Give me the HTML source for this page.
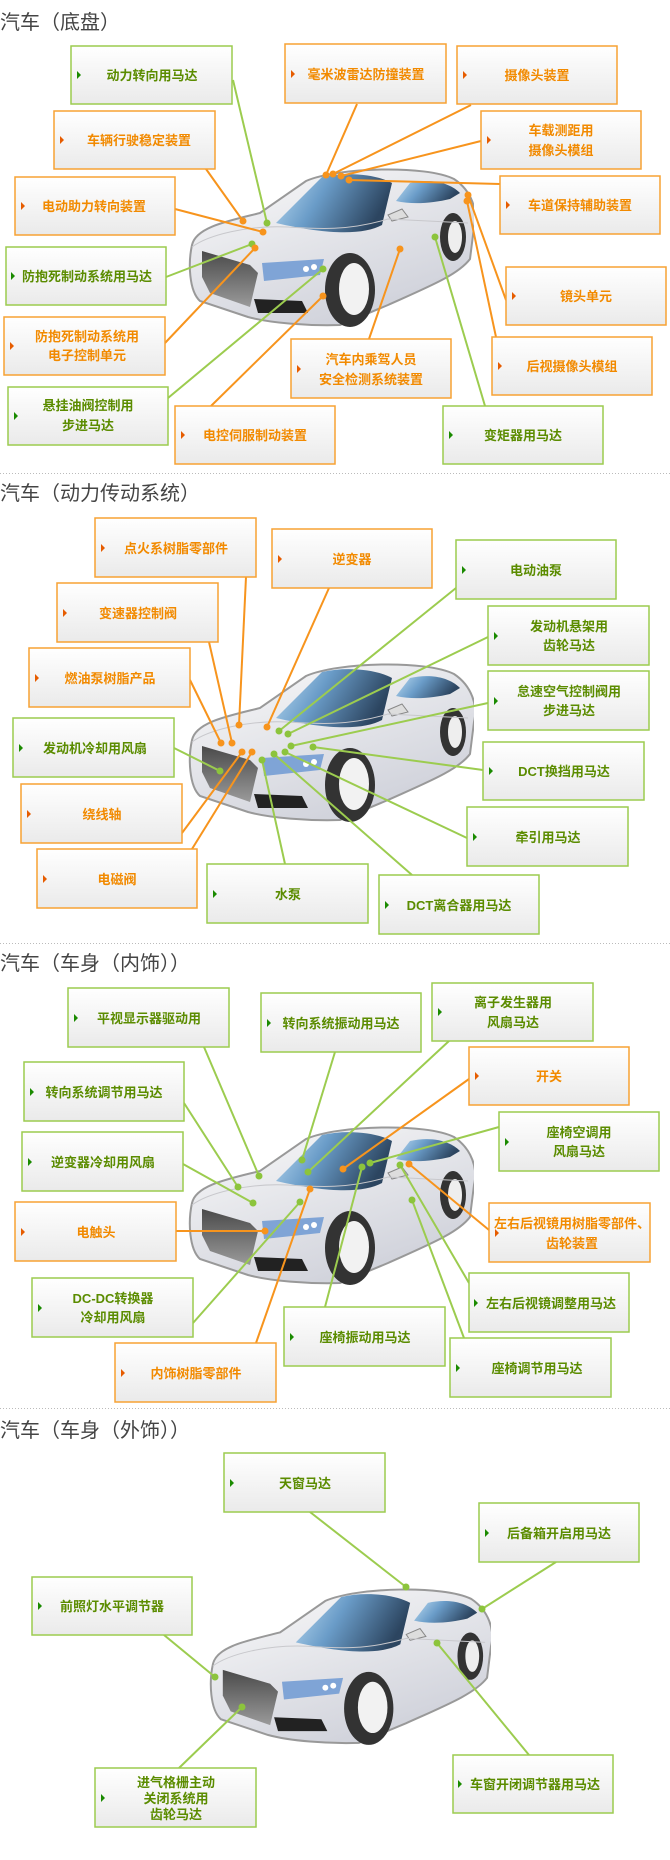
<!DOCTYPE html>
<html><head><meta charset="utf-8"><style>
html,body{margin:0;padding:0;background:#fff;}
svg{display:block;}
text{font-family:"Liberation Sans","Noto Sans CJK SC",sans-serif;}
.t{font-size:20px;fill:#444;}
.g{font-size:13px;font-weight:bold;fill:#5b8c00;text-anchor:middle;}
.o{font-size:13px;font-weight:bold;fill:#f28a00;text-anchor:middle;}
.bg{fill:url(#bx);stroke:#9ccc4f;stroke-width:1.5;}
.bo{fill:url(#bx);stroke:#f7a233;stroke-width:1.5;}
.lg{stroke:#9ccc4f;stroke-width:2;fill:none;}
.lo{stroke:#f7941d;stroke-width:2;fill:none;}
.dg{fill:#8cc43c;}
.do{fill:#f7941d;}
.mg{fill:#1a8a00;}
.mo{fill:#e65c00;}
.sep{stroke:#bbb;stroke-width:1;stroke-dasharray:1 2;}
</style></head><body>
<svg width="670" height="1860" viewBox="0 0 670 1860" xmlns="http://www.w3.org/2000/svg">
<defs>
<linearGradient id="bx" x1="0" y1="0" x2="0" y2="1"><stop offset="0" stop-color="#ffffff"/><stop offset="1" stop-color="#eaeaea"/></linearGradient>
<linearGradient id="ws" x1="0" y1="0" x2="1" y2="0.3"><stop offset="0" stop-color="#bcdcf2"/><stop offset="0.45" stop-color="#6a9cc8"/><stop offset="1" stop-color="#2c4560"/></linearGradient>
<linearGradient id="gr" x1="0" y1="0" x2="0" y2="1"><stop offset="0" stop-color="#4a4a4a"/><stop offset="1" stop-color="#9a9a9a"/></linearGradient>
<linearGradient id="bd" x1="0" y1="0" x2="0.6" y2="1"><stop offset="0" stop-color="#fafafa"/><stop offset="1" stop-color="#cfd1da"/></linearGradient>
<symbol id="car" viewBox="0 0 286 162">
<path d="M4,80 C8,62 40,56 72,48 L118,16 C150,2 238,0 266,14 C284,26 290,46 286,62 L282,94 C270,110 240,122 200,140 L152,160 C120,161 82,158 60,152 L12,136 C1,126 0,98 4,80 Z" fill="url(#bd)" stroke="#999" stroke-width="2"/>
<path d="M88,58 L134,12 C160,6 190,10 204,18 L194,60 C176,70 140,70 88,58 Z" fill="url(#ws)"/>
<path d="M208,36 L222,18 C240,14 260,16 272,28 L262,34 C245,38 225,40 208,36 Z" fill="url(#ws)"/>
<path d="M200,50 L214,44 L220,52 L204,56 Z" fill="#ddd" stroke="#888" stroke-width="1"/>
<path d="M14,86 L62,100 L70,108 L62,142 L22,128 L14,112 Z" fill="url(#gr)"/>
<path d="M74,98 L136,94 L132,110 L76,116 Z" fill="#7fa4d6"/>
<circle cx="118" cy="104" r="3" fill="#fff"/><circle cx="126" cy="102" r="3" fill="#fff"/>
<path d="M66,134 L114,136 L120,148 L70,148 Z" fill="#222"/>
<ellipse cx="162" cy="125" rx="25" ry="37" fill="#333"/>
<ellipse cx="166" cy="124" rx="15" ry="26" fill="#f2f2f2"/>
<ellipse cx="265" cy="72" rx="13" ry="24" fill="#333"/>
<ellipse cx="267" cy="72" rx="7" ry="16" fill="#eee"/>
<path d="M4,82 C20,70 60,60 100,62 C130,64 160,66 200,54 L280,58" fill="none" stroke="#c8c8cc" stroke-width="1"/>
</symbol>
</defs>

<!-- Section 1 -->
<text class="t" x="0" y="29">汽车（底盘）</text>
<use href="#car" x="188" y="165" width="286" height="162"/>
<g>
<line class="lg" x1="233" y1="80" x2="267" y2="223"/><circle class="dg" cx="267" cy="223" r="3.5"/>
<line class="lo" x1="357" y1="104" x2="326" y2="175"/><circle class="do" cx="326" cy="175" r="3.5"/>
<line class="lo" x1="471" y1="105" x2="333" y2="174"/><circle class="do" cx="333" cy="174" r="3.5"/>
<line class="lo" x1="481" y1="141" x2="341" y2="176"/><circle class="do" cx="341" cy="176" r="3.5"/>
<polyline class="lo" points="500,184 349,180"/><circle class="do" cx="349" cy="180" r="3.5"/>
<line class="lo" x1="206" y1="169" x2="243" y2="221"/><circle class="do" cx="243" cy="221" r="3.5"/>
<line class="lo" x1="175" y1="209" x2="263" y2="232"/><circle class="do" cx="263" cy="232" r="3.5"/>
<line class="lg" x1="166" y1="277" x2="252" y2="244"/><circle class="dg" cx="252" cy="244" r="3.5"/>
<line class="lo" x1="165" y1="343" x2="255" y2="248"/><circle class="do" cx="255" cy="248" r="3.5"/>
<line class="lg" x1="168" y1="398" x2="323" y2="269"/><circle class="dg" cx="323" cy="269" r="3.5"/>
<line class="lo" x1="211" y1="406" x2="323" y2="296"/><circle class="do" cx="323" cy="296" r="3.5"/>
<line class="lo" x1="369" y1="339" x2="400" y2="249"/><circle class="do" cx="400" cy="249" r="3.5"/>
<line class="lg" x1="485" y1="406" x2="435" y2="237"/><circle class="dg" cx="435" cy="237" r="3.5"/>
<line class="lo" x1="506" y1="300" x2="468" y2="195"/><circle class="do" cx="468" cy="195" r="3.5"/>
<line class="lo" x1="496" y1="337" x2="467" y2="201"/><circle class="do" cx="467" cy="201" r="3.5"/>
</g>
<g>
<rect class="bg" x="71" y="46" width="161" height="58"/><polygon class="mg" points="77,71 81,75 77,79"/><text class="g" x="152" y="80">动力转向用马达</text>
<rect class="bo" x="285" y="44" width="161" height="59"/><polygon class="mo" points="291,70 295,74 291,78"/><text class="o" x="366" y="79">毫米波雷达防撞装置</text>
<rect class="bo" x="457" y="46" width="160" height="58"/><polygon class="mo" points="463,71 467,75 463,79"/><text class="o" x="537" y="80">摄像头装置</text>
<rect class="bo" x="54" y="111" width="161" height="58"/><polygon class="mo" points="60,136 64,140 60,144"/><text class="o" x="139" y="145">车辆行驶稳定装置</text>
<rect class="bo" x="481" y="111" width="160" height="58"/><polygon class="mo" points="487,136 491,140 487,144"/><text class="o" x="561" y="135">车载测距用</text><text class="o" x="561" y="155">摄像头模组</text>
<rect class="bo" x="15" y="177" width="160" height="58"/><polygon class="mo" points="21,202 25,206 21,210"/><text class="o" x="94" y="211">电动助力转向装置</text>
<rect class="bo" x="500" y="176" width="160" height="58"/><polygon class="mo" points="506,201 510,205 506,209"/><text class="o" x="580" y="210">车道保持辅助装置</text>
<rect class="bg" x="6" y="247" width="160" height="58"/><polygon class="mg" points="11,272 15,276 11,280"/><text class="g" x="87" y="281">防抱死制动系统用马达</text>
<rect class="bo" x="506" y="267" width="160" height="58"/><polygon class="mo" points="512,292 516,296 512,300"/><text class="o" x="586" y="301">镜头单元</text>
<rect class="bo" x="4" y="317" width="161" height="58"/><polygon class="mo" points="10,342 14,346 10,350"/><text class="o" x="87" y="341">防抱死制动系统用</text><text class="o" x="87" y="360">电子控制单元</text>
<rect class="bo" x="291" y="339" width="160" height="59"/><polygon class="mo" points="297,365 301,369 297,373"/><text class="o" x="371" y="364">汽车内乘驾人员</text><text class="o" x="371" y="384">安全检测系统装置</text>
<rect class="bo" x="492" y="337" width="160" height="58"/><polygon class="mo" points="498,362 502,366 498,370"/><text class="o" x="572" y="371">后视摄像头模组</text>
<rect class="bg" x="8" y="387" width="160" height="58"/><polygon class="mg" points="14,412 18,416 14,420"/><text class="g" x="88" y="410">悬挂油阀控制用</text><text class="g" x="88" y="430">步进马达</text>
<rect class="bo" x="175" y="406" width="160" height="58"/><polygon class="mo" points="181,431 185,435 181,439"/><text class="o" x="255" y="440">电控伺服制动装置</text>
<rect class="bg" x="443" y="406" width="160" height="58"/><polygon class="mg" points="449,431 453,435 449,439"/><text class="g" x="523" y="440">变矩器用马达</text>
</g>

<!-- Section 2 -->
<line class="sep" x1="0" y1="473.5" x2="670" y2="473.5"/>
<text class="t" x="0" y="500">汽车（动力传动系统）</text>
<use href="#car" x="188" y="660" width="286" height="162"/>
<g>
<line class="lo" x1="246" y1="577" x2="239" y2="725"/><circle class="do" cx="239" cy="725" r="3.5"/>
<line class="lo" x1="329" y1="588" x2="267" y2="727"/><circle class="do" cx="267" cy="727" r="3.5"/>
<line class="lg" x1="456" y1="588" x2="279" y2="731"/><circle class="dg" cx="279" cy="731" r="3.5"/>
<line class="lo" x1="209" y1="642" x2="232" y2="743"/><circle class="do" cx="232" cy="743" r="3.5"/>
<line class="lg" x1="488" y1="637" x2="288" y2="734"/><circle class="dg" cx="288" cy="734" r="3.5"/>
<line class="lo" x1="190" y1="680" x2="221" y2="743"/><circle class="do" cx="221" cy="743" r="3.5"/>
<line class="lg" x1="488" y1="703" x2="291" y2="746"/><circle class="dg" cx="291" cy="746" r="3.5"/>
<line class="lg" x1="174" y1="748" x2="220" y2="771"/><circle class="dg" cx="220" cy="771" r="3.5"/>
<line class="lg" x1="483" y1="770" x2="313" y2="747"/><circle class="dg" cx="313" cy="747" r="3.5"/>
<line class="lo" x1="182" y1="833" x2="242" y2="752"/><circle class="do" cx="242" cy="752" r="3.5"/>
<line class="lg" x1="467" y1="838" x2="285" y2="752"/><circle class="dg" cx="285" cy="752" r="3.5"/>
<line class="lo" x1="192" y1="849" x2="252" y2="752"/><circle class="do" cx="252" cy="752" r="3.5"/>
<line class="lg" x1="285" y1="864" x2="262" y2="760"/><circle class="dg" cx="262" cy="760" r="3.5"/>
<line class="lg" x1="412" y1="875" x2="274" y2="754"/><circle class="dg" cx="274" cy="754" r="3.5"/>
</g>
<g>
<rect class="bo" x="95" y="518" width="161" height="59"/><polygon class="mo" points="101,544 105,548 101,552"/><text class="o" x="176" y="553">点火系树脂零部件</text>
<rect class="bo" x="272" y="529" width="160" height="59"/><polygon class="mo" points="278,555 282,559 278,563"/><text class="o" x="352" y="564">逆变器</text>
<rect class="bg" x="456" y="540" width="160" height="59"/><polygon class="mg" points="462,566 466,570 462,574"/><text class="g" x="536" y="575">电动油泵</text>
<rect class="bo" x="57" y="583" width="161" height="59"/><polygon class="mo" points="63,609 67,613 63,617"/><text class="o" x="138" y="618">变速器控制阀</text>
<rect class="bg" x="488" y="606" width="161" height="59"/><polygon class="mg" points="494,632 498,636 494,640"/><text class="g" x="569" y="631">发动机悬架用</text><text class="g" x="569" y="650">齿轮马达</text>
<rect class="bo" x="29" y="648" width="161" height="59"/><polygon class="mo" points="35,674 39,678 35,682"/><text class="o" x="110" y="683">燃油泵树脂产品</text>
<rect class="bg" x="488" y="671" width="161" height="59"/><polygon class="mg" points="494,697 498,701 494,705"/><text class="g" x="569" y="696">怠速空气控制阀用</text><text class="g" x="569" y="715">步进马达</text>
<rect class="bg" x="13" y="718" width="161" height="59"/><polygon class="mg" points="19,744 23,748 19,752"/><text class="g" x="95" y="753">发动机冷却用风扇</text>
<rect class="bg" x="483" y="742" width="161" height="58"/><polygon class="mg" points="489,767 493,771 489,775"/><text class="g" x="564" y="776">DCT换挡用马达</text>
<rect class="bo" x="21" y="784" width="161" height="59"/><polygon class="mo" points="27,810 31,814 27,818"/><text class="o" x="102" y="819">绕线轴</text>
<rect class="bg" x="467" y="807" width="161" height="59"/><polygon class="mg" points="473,833 477,837 473,841"/><text class="g" x="548" y="842">牵引用马达</text>
<rect class="bo" x="37" y="849" width="160" height="59"/><polygon class="mo" points="43,875 47,879 43,883"/><text class="o" x="117" y="884">电磁阀</text>
<rect class="bg" x="207" y="864" width="161" height="59"/><polygon class="mg" points="213,890 217,894 213,898"/><text class="g" x="288" y="899">水泵</text>
<rect class="bg" x="379" y="875" width="160" height="59"/><polygon class="mg" points="385,901 389,905 385,909"/><text class="g" x="459" y="910">DCT离合器用马达</text>
</g>

<!-- Section 3 -->
<line class="sep" x1="0" y1="943.5" x2="670" y2="943.5"/>
<text class="t" x="0" y="970">汽车（车身（内饰））</text>
<use href="#car" x="188" y="1123" width="286" height="162"/>
<g>
<line class="lg" x1="204" y1="1047" x2="259" y2="1176"/><circle class="dg" cx="259" cy="1176" r="3.5"/>
<line class="lg" x1="335" y1="1052" x2="302" y2="1160"/><circle class="dg" cx="302" cy="1160" r="3.5"/>
<line class="lg" x1="449" y1="1041" x2="308" y2="1172"/><circle class="dg" cx="308" cy="1172" r="3.5"/>
<line class="lg" x1="184" y1="1103" x2="238" y2="1187"/><circle class="dg" cx="238" cy="1187" r="3.5"/>
<line class="lo" x1="469" y1="1079" x2="343" y2="1169"/><circle class="do" cx="343" cy="1169" r="3.5"/>
<line class="lg" x1="183" y1="1164" x2="253" y2="1203"/><circle class="dg" cx="253" cy="1203" r="3.5"/>
<line class="lg" x1="499" y1="1127" x2="370" y2="1163"/><circle class="dg" cx="370" cy="1163" r="3.5"/>
<line class="lo" x1="176" y1="1231" x2="265" y2="1231"/><circle class="do" cx="265" cy="1231" r="3.5"/>
<line class="lo" x1="489" y1="1230" x2="409" y2="1164"/><circle class="do" cx="409" cy="1164" r="3.5"/>
<line class="lg" x1="193" y1="1323" x2="300" y2="1202"/><circle class="dg" cx="300" cy="1202" r="3.5"/>
<line class="lg" x1="469" y1="1283" x2="400" y2="1165"/><circle class="dg" cx="400" cy="1165" r="3.5"/>
<line class="lg" x1="325" y1="1307" x2="362" y2="1167"/><circle class="dg" cx="362" cy="1167" r="3.5"/>
<line class="lo" x1="256" y1="1343" x2="310" y2="1189"/><circle class="do" cx="310" cy="1189" r="3.5"/>
<line class="lg" x1="464" y1="1338" x2="412" y2="1200"/><circle class="dg" cx="412" cy="1200" r="3.5"/>
</g>
<g>
<rect class="bg" x="68" y="988" width="161" height="59"/><polygon class="mg" points="74,1014 78,1018 74,1022"/><text class="g" x="149" y="1023">平视显示器驱动用</text>
<rect class="bg" x="261" y="993" width="160" height="59"/><polygon class="mg" points="267,1019 271,1023 267,1027"/><text class="g" x="341" y="1028">转向系统振动用马达</text>
<rect class="bg" x="432" y="983" width="161" height="58"/><polygon class="mg" points="438,1008 442,1012 438,1016"/><text class="g" x="513" y="1007">离子发生器用</text><text class="g" x="513" y="1027">风扇马达</text>
<rect class="bg" x="24" y="1062" width="160" height="59"/><polygon class="mg" points="30,1088 34,1092 30,1096"/><text class="g" x="104" y="1097">转向系统调节用马达</text>
<rect class="bo" x="469" y="1047" width="160" height="58"/><polygon class="mo" points="475,1072 479,1076 475,1080"/><text class="o" x="549" y="1081">开关</text>
<rect class="bg" x="22" y="1132" width="161" height="59"/><polygon class="mg" points="28,1158 32,1162 28,1166"/><text class="g" x="103" y="1167">逆变器冷却用风扇</text>
<rect class="bg" x="499" y="1112" width="160" height="59"/><polygon class="mg" points="505,1138 509,1142 505,1146"/><text class="g" x="579" y="1137">座椅空调用</text><text class="g" x="579" y="1156">风扇马达</text>
<rect class="bo" x="15" y="1202" width="161" height="59"/><polygon class="mo" points="21,1228 25,1232 21,1236"/><text class="o" x="96" y="1237">电触头</text>
<rect class="bo" x="489" y="1203" width="161" height="59"/><polygon class="mo" points="495,1229 499,1233 495,1237"/><text class="o" x="572" y="1228">左右后视镜用树脂零部件、</text><text class="o" x="572" y="1248">齿轮装置</text>
<rect class="bg" x="32" y="1278" width="161" height="59"/><polygon class="mg" points="38,1304 42,1308 38,1312"/><text class="g" x="113" y="1303">DC-DC转换器</text><text class="g" x="113" y="1322">冷却用风扇</text>
<rect class="bg" x="469" y="1273" width="160" height="59"/><polygon class="mg" points="474,1299 478,1303 474,1307"/><text class="g" x="551" y="1308">左右后视镜调整用马达</text>
<rect class="bg" x="284" y="1307" width="161" height="59"/><polygon class="mg" points="290,1333 294,1337 290,1341"/><text class="g" x="365" y="1342">座椅振动用马达</text>
<rect class="bo" x="115" y="1343" width="161" height="59"/><polygon class="mo" points="121,1369 125,1373 121,1377"/><text class="o" x="196" y="1378">内饰树脂零部件</text>
<rect class="bg" x="450" y="1338" width="161" height="59"/><polygon class="mg" points="456,1364 460,1368 456,1372"/><text class="g" x="537" y="1373">座椅调节用马达</text>
</g>

<!-- Section 4 -->
<line class="sep" x1="0" y1="1408.5" x2="670" y2="1408.5"/>
<text class="t" x="0" y="1437">汽车（车身（外饰））</text>
<use href="#car" x="209" y="1583" width="282" height="164"/>
<g>
<line class="lg" x1="310" y1="1512" x2="406" y2="1587"/><circle class="dg" cx="406" cy="1587" r="3.5"/>
<line class="lg" x1="556" y1="1562" x2="482" y2="1609"/><circle class="dg" cx="482" cy="1609" r="3.5"/>
<line class="lg" x1="164" y1="1635" x2="215" y2="1677"/><circle class="dg" cx="215" cy="1677" r="3.5"/>
<line class="lg" x1="179" y1="1768" x2="242" y2="1707"/><circle class="dg" cx="242" cy="1707" r="3.5"/>
<line class="lg" x1="529" y1="1755" x2="437" y2="1643"/><circle class="dg" cx="437" cy="1643" r="3.5"/>
</g>
<g>
<rect class="bg" x="224" y="1453" width="161" height="59"/><polygon class="mg" points="230,1479 234,1483 230,1487"/><text class="g" x="305" y="1488">天窗马达</text>
<rect class="bg" x="479" y="1503" width="160" height="59"/><polygon class="mg" points="485,1529 489,1533 485,1537"/><text class="g" x="559" y="1538">后备箱开启用马达</text>
<rect class="bg" x="32" y="1577" width="160" height="58"/><polygon class="mg" points="38,1602 42,1606 38,1610"/><text class="g" x="112" y="1611">前照灯水平调节器</text>
<rect class="bg" x="95" y="1768" width="161" height="59"/><polygon class="mg" points="101,1794 105,1798 101,1802"/><text class="g" x="176" y="1787">进气格栅主动</text><text class="g" x="176" y="1803">关闭系统用</text><text class="g" x="176" y="1819">齿轮马达</text>
<rect class="bg" x="453" y="1755" width="160" height="58"/><polygon class="mg" points="458,1780 462,1784 458,1788"/><text class="g" x="535" y="1789">车窗开闭调节器用马达</text>
</g>
</svg>
</body></html>
